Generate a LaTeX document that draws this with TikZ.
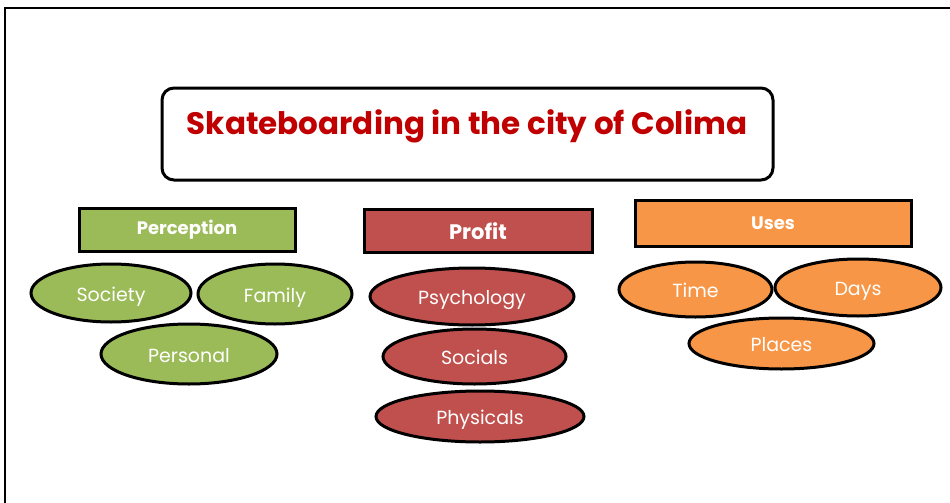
\documentclass[tikz,border=0pt]{standalone}
\usepackage{fontspec}
\setmainfont{Poppins}
\usetikzlibrary{shapes.geometric}
\definecolor{titlered}{HTML}{C00000}
\definecolor{leafgreen}{HTML}{9BBB59}
\definecolor{brickred}{HTML}{C0504D}
\definecolor{warmorange}{HTML}{F79646}
\tikzset{
  frameline/.style={line width=2pt, black},
  titlebox/.style={draw=black, line width=3pt, rounded corners=12pt, fill=white},
  headbox/.style={draw=black, line width=3pt, rectangle, inner sep=0pt,
    text=white, font=\bfseries\fontsize{18}{20}\selectfont},
  bubble/.style={draw=black, line width=3pt, ellipse, inner sep=0pt,
    text=white, font=\fontsize{19}{22}\selectfont,
    text height=20pt, text depth=3.7pt},
}
\begin{document}
\begin{tikzpicture}[x=1pt,y=-1pt]
\useasboundingbox (0,0) rectangle (950,503);
% page frame (left and top edges)
\draw[frameline] (5,503) -- (5,8) -- (950,8);

% title
\node[titlebox, minimum width=611pt, minimum height=92pt] (title) at (467.5,134) {};
\node[text=titlered, font=\bfseries\fontsize{31}{34}\selectfont] (titletext) at (467,126) {Skateboarding in the city of Colima};

% headings
\node[headbox, fill=leafgreen, minimum width=216pt, minimum height=43pt] (perception) at (187,229.5) {Perception};
\node[headbox, fill=brickred, minimum width=228pt, minimum height=43pt,
  font=\bfseries\fontsize{21}{24}\selectfont] (profit) at (478,231) {Profit};
\node[headbox, fill=warmorange, minimum width=276pt, minimum height=46pt] (uses) at (773,223) {Uses};

% perception group
\node[bubble, fill=leafgreen, minimum width=160pt, minimum height=58pt] (society) at (111,293) {Society};
\node[bubble, fill=leafgreen, minimum width=154pt, minimum height=60pt] (family) at (275,294) {Family};
\node[bubble, fill=leafgreen, minimum width=176pt, minimum height=60pt] (personal) at (189,354) {Personal};

% profit group
\node[bubble, fill=brickred, minimum width=204pt, minimum height=57pt] (psychology) at (472,296.5) {Psychology};
\node[bubble, fill=brickred, minimum width=183pt, minimum height=55pt] (socials) at (474.5,356.5) {Socials};
\node[bubble, fill=brickred, minimum width=208pt, minimum height=51pt] (physicals) at (480,416.5) {Physicals};

% uses group
\node[bubble, fill=warmorange, minimum width=153pt, minimum height=55pt] (time) at (695.5,289.5) {Time};
\node[bubble, fill=warmorange, minimum width=166pt, minimum height=57pt] (days) at (858,287.5) {Days};
\node[bubble, fill=warmorange, minimum width=185pt, minimum height=51pt] (places) at (781.5,343.5) {Places};
\end{tikzpicture}
\end{document}
